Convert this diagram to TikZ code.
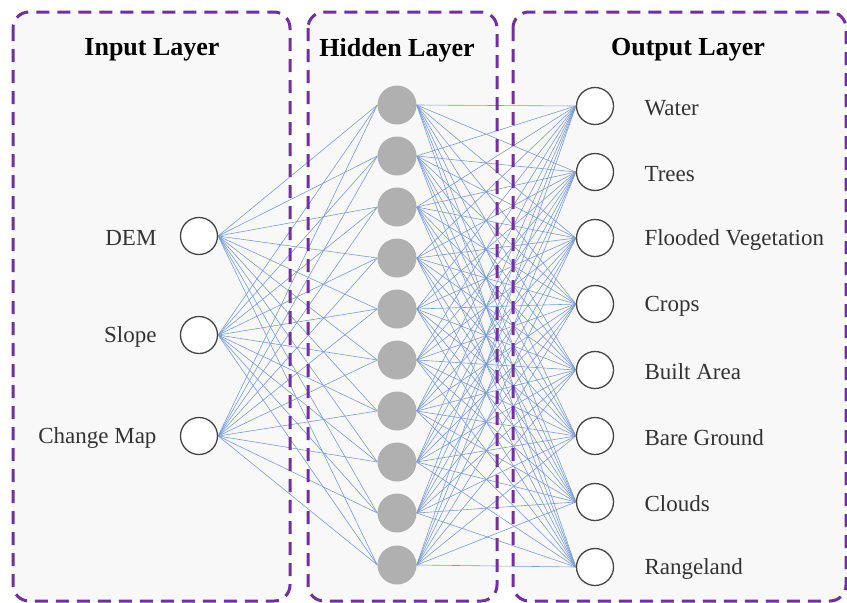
\documentclass[tikz,border=0pt]{standalone}
\usepackage{fontspec}
\setmainfont{Liberation Serif}
\pgfdeclarelayer{bg}
\pgfdeclarelayer{edges}
\pgfsetlayers{bg,edges,main}
\definecolor{panelfill}{HTML}{F8F8F8}
\definecolor{panelborder}{HTML}{7030A0}
\definecolor{edgeblue}{HTML}{7A9BDA}
\definecolor{hidgray}{HTML}{B0B0B0}
\definecolor{circdraw}{HTML}{444444}
\definecolor{txt}{HTML}{333333}
\tikzset{
  panelbox/.style={draw=panelborder, line width=3pt, dash pattern=on 13pt off 8pt, rounded corners=16pt},
  panelbg/.style={fill=panelfill, rounded corners=16pt},
  inneuron/.style={circle, draw=circdraw, line width=1.3pt, fill=white, minimum size=37pt, inner sep=0pt},
  hidneuron/.style={circle, fill=hidgray, minimum size=39pt, inner sep=0pt},
  conn/.style={draw=edgeblue, line width=0.6pt},
  title/.style={font=\fontsize{26}{29}\selectfont\bfseries, text=black},
  lab/.style={font=\fontsize{23}{26}\selectfont, text=txt}
}
\begin{document}
\begin{tikzpicture}[x=1pt,y=-1pt]
\useasboundingbox (0,0) rectangle (847,603);
% panels
\begin{pgfonlayer}{bg}
\fill[white] (0,0) rectangle (847,603);
\fill[panelbg] (13,12) rectangle (290,601);
\fill[panelbg] (308,12) rectangle (497,601);
\fill[panelbg] (513,12) rectangle (846,601);
\end{pgfonlayer}
\draw[panelbox] (13,12) rectangle (290,601);
\draw[panelbox] (308,12) rectangle (497,601);
\draw[panelbox] (513,12) rectangle (846,601);
% titles
\node[title] (tin) at (152,50) {Input Layer};
\node[title] (thid) at (397,50) {Hidden Layer};
\node[title] (tout) at (688,50) {Output Layer};
% input
\node[inneuron] (i1) at (199,236) {};
\node[inneuron] (i2) at (199,335) {};
\node[inneuron] (i3) at (199,436) {};
\node[lab, anchor=east] (li1) at (160,238) {DEM};
\node[lab, anchor=east] (li2) at (160,337) {Slope};
\node[lab, anchor=east] (li3) at (160,438) {Change Map};
% hidden
\foreach \k/\y in {1/105,2/156,3/207,4/258,5/309,6/360,7/411,8/462,9/513,10/565}
  \node[hidneuron] (h\k) at (397,\y) {};
% output
\node[inneuron] (o1) at (595,106) {};
\node[inneuron] (o2) at (595,172) {};
\node[inneuron] (o3) at (595,238) {};
\node[inneuron] (o4) at (595,304) {};
\node[inneuron] (o5) at (595,370) {};
\node[inneuron] (o6) at (595,436) {};
\node[inneuron] (o7) at (595,502) {};
\node[inneuron] (o8) at (595,567) {};
\node[lab, anchor=west] (lo1) at (641,108) {Water};
\node[lab, anchor=west] (lo2) at (641,174) {Trees};
\node[lab, anchor=west] (lo3) at (641,240) {Flooded Vegetation};
\node[lab, anchor=west] (lo4) at (641,306) {Crops};
\node[lab, anchor=west] (lo5) at (641,372) {Built Area};
\node[lab, anchor=west] (lo6) at (641,438) {Bare Ground};
\node[lab, anchor=west] (lo7) at (641,504) {Clouds};
\node[lab, anchor=west] (lo8) at (641,569) {Rangeland};
% connections
\begin{pgfonlayer}{edges}
\foreach \a in {1,2,3}
  \foreach \b in {1,...,10}
    \draw[conn] (i\a.east) -- (h\b.west);
\foreach \b in {1,...,10}
  \foreach \c in {1,...,8}
    \draw[conn] (h\b.east) -- (o\c.west);
\end{pgfonlayer}
\end{tikzpicture}
\end{document}
